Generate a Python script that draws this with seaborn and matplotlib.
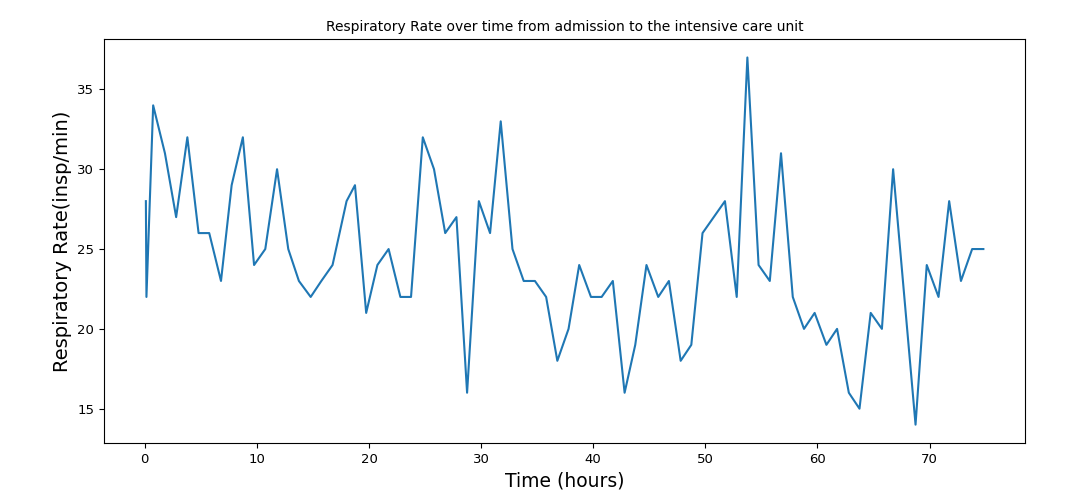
import matplotlib
matplotlib.use("Agg")
import matplotlib.pyplot as plt
import seaborn as sns
import pandas as pd

hours = [0.1, 0.15, 0.75, 1.8, 2.8, 3.8, 4.8, 5.75, 6.8, 7.75, 8.75, 9.75, 10.75, 11.8, 12.8,
         13.75, 14.8, 15.75, 16.75, 18.0, 18.75, 19.75, 20.75, 21.75, 22.8, 23.75, 24.8, 25.8,
         26.8, 27.8, 28.75, 29.8, 30.8, 31.75, 32.8, 33.8, 34.8, 35.8, 36.8, 37.8, 38.75, 39.8,
         40.75, 41.75, 42.8, 43.75, 44.75, 45.8, 46.75, 47.8, 48.75, 49.75, 50.75, 51.75, 52.8,
         53.75, 54.75, 55.75, 56.75, 57.8, 58.8, 59.75, 60.8, 61.75, 62.8, 63.75, 64.75, 65.75,
         66.75, 67.75, 68.75, 69.75, 70.8, 71.75, 72.8, 73.8, 74.8]
resp_rate = [28, 22, 34, 31, 27, 32, 26, 26, 23, 29, 32, 24, 25, 30, 25,
             23, 22, 23, 24, 28, 29, 21, 24, 25, 22, 22, 32, 30,
             26, 27, 16, 28, 26, 33, 25, 23, 23, 22, 18, 20, 24, 22,
             22, 23, 16, 19, 24, 22, 23, 18, 19, 26, 27, 28, 22,
             37, 24, 23, 31, 22, 20, 21, 19, 20, 16, 15, 21, 20,
             30, 22, 14, 24, 22, 28, 23, 25, 25]

df = pd.DataFrame({"Time (hours)": hours, "Respiratory Rate(insp/min)": resp_rate})

fig = plt.figure(figsize=(10.8, 4.95), dpi=100)
ax = fig.add_axes([0.0963, 0.105, 0.853, 0.816])
sns.lineplot(data=df, x="Time (hours)", y="Respiratory Rate(insp/min)", ax=ax,
             color="#1f77b4", linewidth=1.5, sort=False)
ax.set_title("Respiratory Rate over time from admission to the intensive care unit", fontsize=10)
ax.set_xlabel("Time (hours)", fontsize=13.5)
ax.set_ylabel("Respiratory Rate(insp/min)", fontsize=14)
ax.tick_params(labelsize=9.5)
fig.savefig("out.png", dpi=100)
